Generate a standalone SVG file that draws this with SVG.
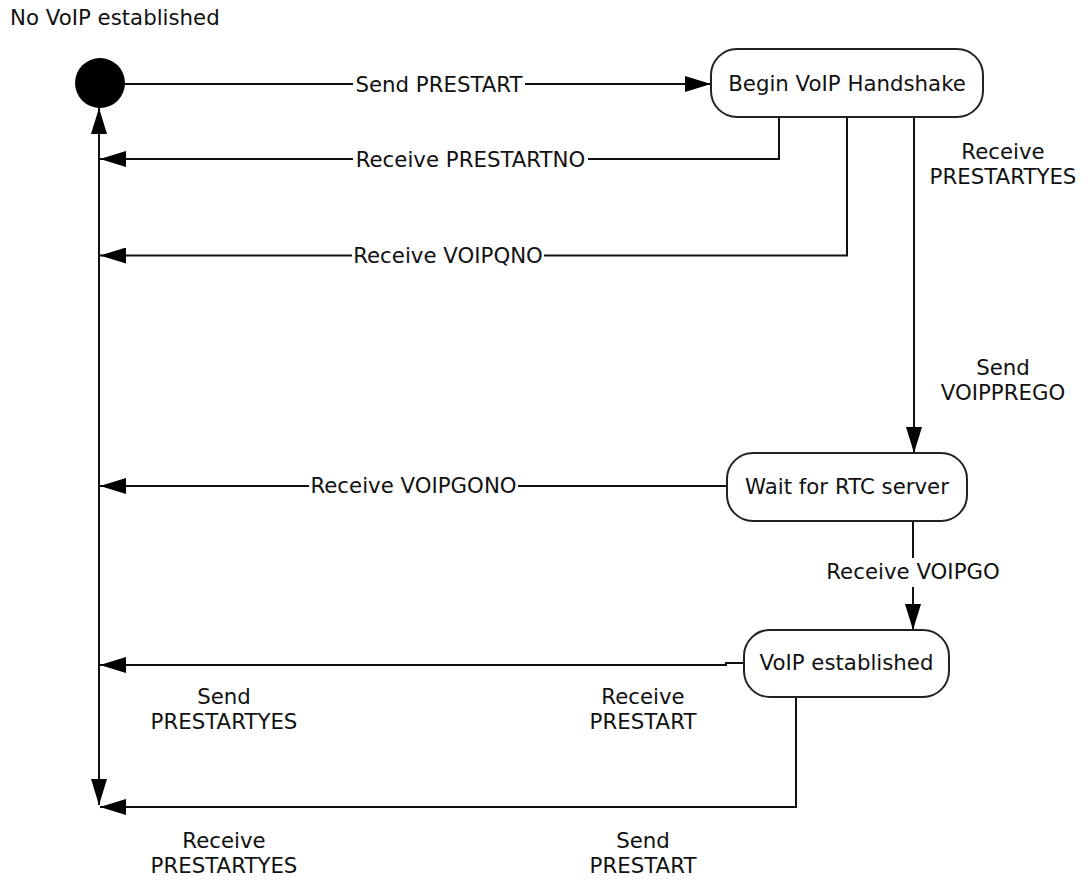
<svg xmlns="http://www.w3.org/2000/svg" width="1085" height="881" viewBox="0 0 1085 881">
<style>
text{font-family:"DejaVu Sans","Verdana",sans-serif;font-size:21.3px;fill:#111;text-anchor:middle}
.state{fill:#fff;stroke:#222;stroke-width:2}
.conn{fill:none;stroke:#111;stroke-width:2}
.lbg{fill:#fff}
</style>
<defs>
<marker id="arr" viewBox="0 0 26 16" refX="26" refY="8" markerWidth="26" markerHeight="16" markerUnits="userSpaceOnUse" orient="auto-start-reverse">
<path d="M0,0 L26,8 L0,16 Z" fill="#000"/>
</marker>
</defs>
<rect width="1085" height="881" fill="#fff"/>
<text x="10" y="24.5" style="text-anchor:start">No VoIP established</text>

<g id="connectors">
<path class="conn" d="M125,84 H711" marker-end="url(#arr)"/>
<path class="conn" d="M779,117 V159 H100" marker-end="url(#arr)"/>
<path class="conn" d="M847,117 V255.5 H100" marker-end="url(#arr)"/>
<path class="conn" d="M914,117 V453" marker-end="url(#arr)"/>
<path class="conn" d="M727,486 H100" marker-end="url(#arr)"/>
<path class="conn" d="M913,521 V630" marker-end="url(#arr)"/>
<path class="conn" d="M744,663 H726 V665 H100" marker-end="url(#arr)"/>
<path class="conn" d="M796,697 V807 H100" marker-end="url(#arr)"/>
<path class="conn" d="M99,805 V108" marker-start="url(#arr)" marker-end="url(#arr)"/>
<g id="labels">
<rect class="lbg" x="353" y="72" width="172" height="26"/>
<text x="439" y="91.5">Send PRESTART</text>
<rect class="lbg" x="353" y="147" width="235" height="26"/>
<text x="470.5" y="166.5">Receive PRESTARTNO</text>
<rect class="lbg" x="352" y="243" width="192" height="26"/>
<text x="448" y="262.5">Receive VOIPQNO</text>
<rect class="lbg" x="309" y="473" width="209" height="26"/>
<text x="413.5" y="492.5">Receive VOIPGONO</text>
<rect class="lbg" x="824" y="558" width="178" height="29"/>
<text x="913" y="579">Receive VOIPGO</text>
<text x="1003" y="159">Receive</text>
<text x="1003" y="184">PRESTARTYES</text>
<text x="1003" y="375">Send</text>
<text x="1003" y="400">VOIPPREGO</text>
<text x="224" y="704">Send</text>
<text x="224" y="729">PRESTARTYES</text>
<text x="643" y="704">Receive</text>
<text x="643" y="729">PRESTART</text>
<text x="224" y="848">Receive</text>
<text x="224" y="873">PRESTARTYES</text>
<text x="643" y="848">Send</text>
<text x="643" y="872.5">PRESTART</text>
</g>
</g>

<g id="start">
<circle cx="100" cy="83" r="25" fill="#000"/>
</g>
<g id="begin-handshake">
<rect class="state" x="711" y="49" width="272" height="68" rx="26" ry="26"/>
<text x="847" y="90.5">Begin VoIP Handshake</text>
</g>
<g id="wait-rtc">
<rect class="state" x="727" y="453" width="240" height="68" rx="26" ry="26"/>
<text x="847" y="494">Wait for RTC server</text>
</g>
<g id="voip-established">
<rect class="state" x="744" y="630" width="205" height="67" rx="26" ry="26"/>
<text x="846.5" y="670">VoIP established</text>
</g>
</svg>
